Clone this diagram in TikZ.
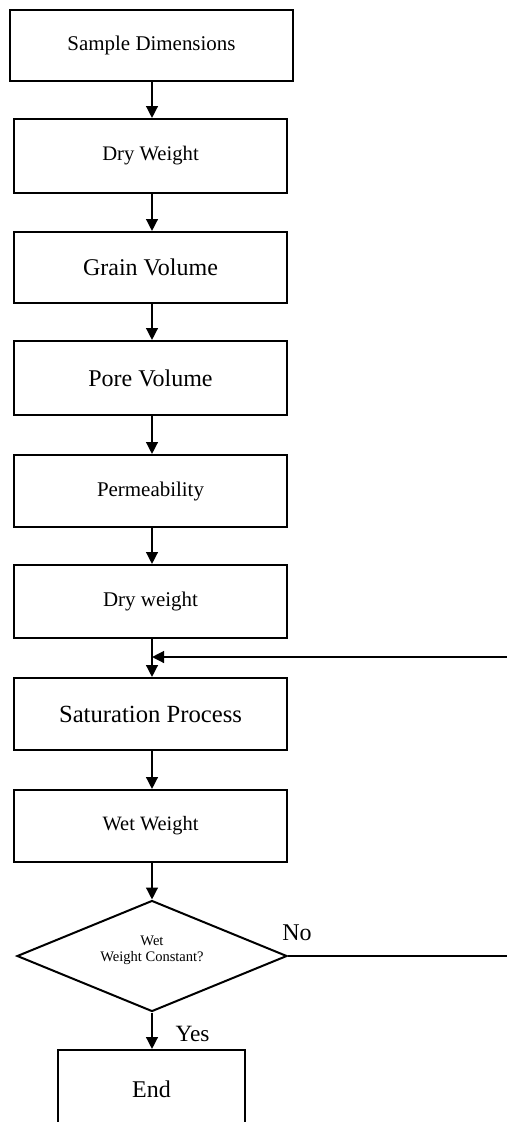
\documentclass[tikz,border=0pt]{standalone}
\usepackage{fontspec}
\setmainfont{Liberation Serif}
\usetikzlibrary{arrows.meta,shapes.geometric}
\tikzset{
  stepbox/.style={draw, line width=1.5pt, rectangle, inner sep=0pt, minimum width=204.75pt, fill=white},
  flow/.style={line width=1.5pt, -{Triangle[length=9pt,width=8.8pt]}},
  lbl/.style={inner sep=0pt, anchor=base}
}
\begin{document}
\begin{tikzpicture}[x=0.75pt,y=-0.75pt]
\clip (0,0) rectangle (507,1122);
\fill[white] (0,0) rectangle (507,1122);
\node[stepbox, minimum width=212.25pt, minimum height=53.25pt, font=\fontsize{15.7}{18}\selectfont] (b1) at (151.5,45.5) {Sample Dimensions};
\node[stepbox, minimum height=55.5pt, font=\fontsize{15.5}{18}\selectfont] (b2) at (150.5,156) {Dry Weight};
\node[stepbox, minimum height=53.25pt, font=\fontsize{18}{21}\selectfont] (b3) at (150.5,267.5) {Grain Volume};
\node[stepbox, minimum height=55.5pt, font=\fontsize{18}{21}\selectfont] (b4) at (150.5,378) {Pore Volume};
\node[stepbox, minimum height=54pt, font=\fontsize{15.7}{18}\selectfont] (b5) at (150.5,491) {Permeability};
\node[stepbox, minimum height=54.75pt, font=\fontsize{15.7}{18}\selectfont] (b6) at (150.5,601.5) {Dry weight};
\node[stepbox, minimum height=54pt, font=\fontsize{18.5}{21}\selectfont] (b7) at (150.5,714) {Saturation Process};
\node[stepbox, minimum height=54pt, font=\fontsize{15.3}{18}\selectfont] (b8) at (150.5,826) {Wet Weight};
\node[draw, line width=1.5pt, diamond, inner sep=0pt, minimum width=202.5pt, minimum height=83.25pt] (dec) at (152,956) {};
\node[align=center, inner sep=0pt, font=\fontsize{10.9}{12}\selectfont] (dectxt) at (152,950) {Wet\\Weight Constant?};
\node[stepbox, minimum width=140.25pt, minimum height=58.5pt, font=\fontsize{18}{21}\selectfont] (end) at (151.5,1089) {End};
\node[lbl, font=\fontsize{18}{21}\selectfont] (no) at (297,940) {No};
\node[lbl, font=\fontsize{17.5}{21}\selectfont] (yes) at (192.5,1041.5) {Yes};
\coordinate (join) at (152,657);
\coordinate (rt) at (530,956);
\draw[flow] (b1.south -| dec) -- (b2.north -| dec);
\draw[flow] (b2.south -| dec) -- (b3.north -| dec);
\draw[flow] (b3.south -| dec) -- (b4.north -| dec);
\draw[flow] (b4.south -| dec) -- (b5.north -| dec);
\draw[flow] (b5.south -| dec) -- (b6.north -| dec);
\draw[flow] (b6.south -| dec) -- (b7.north -| dec);
\draw[flow] (b7.south -| dec) -- (b8.north -| dec);
\draw[flow] (b8.south -| dec) -- (dec.north);
\draw[flow] (dec.south) -- (end.north -| dec);
\draw[flow] (dec.east) -- (rt) |- (join);
\end{tikzpicture}
\end{document}
